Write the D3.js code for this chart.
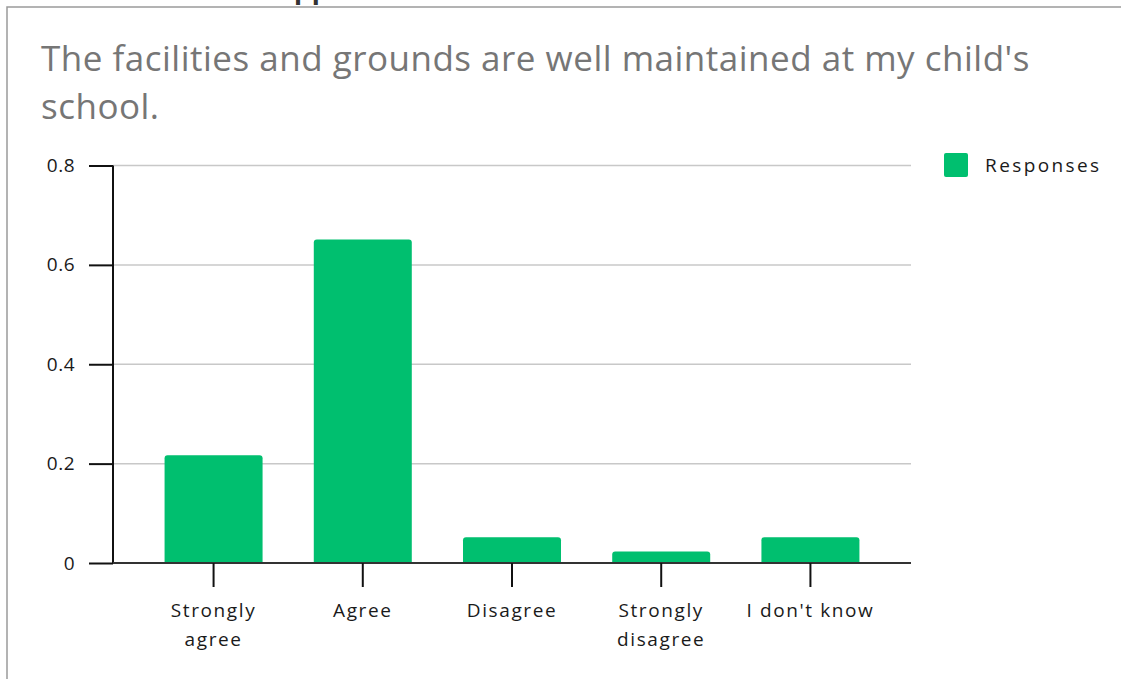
<!DOCTYPE html>
<html>
<head>
<meta charset="utf-8">
<script src="https://cdn.jsdelivr.net/npm/d3@7"></script>
<style>
  html, body { margin: 0; padding: 0; background: #ffffff; }
  svg { display: block; }
</style>
</head>
<body>
<svg id="chart" width="1121" height="679"></svg>
<script>
// Survey question and answer shares
const titleLines = ["The facilities and grounds are well maintained at my child's", "school."];
const categories = [["Strongly", "agree"], ["Agree"], ["Disagree"], ["Strongly", "disagree"], ["I don't know"]];
const responses = [0.217, 0.651, 0.052, 0.023, 0.052];
const yTicks = [0, 0.2, 0.4, 0.6, 0.8];
const seriesName = "Responses";

const svg = d3.select("#chart");
const green = "#00bf6f";
const labelFont = "'Open Sans', 'Noto Sans', sans-serif";

// Panel frame (top and left edges)
svg.append("path")
  .attr("d", "M7,679 L7,7 L1121,7")
  .attr("fill", "none")
  .attr("stroke", "#9a9a9a")
  .attr("stroke-width", 1.5);

// Heading of the previous panel, clipped by the page top
svg.append("text")
  .attr("x", 294).attr("y", -1.5)
  .attr("font-family", "'Liberation Sans', Arial, sans-serif")
  .attr("font-weight", "bold")
  .attr("font-size", 29)
  .attr("fill", "#333")
  .text("pp");

// Title
svg.append("g").selectAll("text")
  .data(titleLines)
  .join("text")
  .attr("x", 41)
  .attr("y", (d, i) => 71 + i * 48)
  .attr("font-family", labelFont)
  .attr("font-size", 35)
  .attr("letter-spacing", 0.5)
  .attr("fill", "#767676")
  .text(d => d);

const plotLeft = 113, plotRight = 911, plotTop = 165.5, plotBottom = 563;

const y = d3.scaleLinear().domain([0, 0.8]).range([plotBottom, plotTop]);
const x = d3.scalePoint()
  .domain(categories.map(d => d.join(" ")))
  .range([plotLeft, plotRight])
  .padding(0.674);

// Horizontal gridlines
svg.append("g").selectAll("line")
  .data(yTicks.filter(t => t > 0))
  .join("line")
  .attr("x1", plotLeft).attr("x2", plotRight)
  .attr("y1", d => y(d)).attr("y2", d => y(d))
  .attr("stroke", "#c8c8c8")
  .attr("stroke-width", 1.5);

// Bars with rounded tops
const barW = 98, r = 3;
svg.append("g").selectAll("path")
  .data(responses)
  .join("path")
  .attr("fill", green)
  .attr("d", (v, i) => {
    const cx = x(categories[i].join(" "));
    const x0 = cx - barW / 2, x1 = cx + barW / 2;
    const y0 = y(v), y1 = y(0);
    return `M${x0},${y1} L${x0},${y0 + r} Q${x0},${y0} ${x0 + r},${y0} L${x1 - r},${y0} Q${x1},${y0} ${x1},${y0 + r} L${x1},${y1} Z`;
  });

// Y axis
const yAxis = d3.axisLeft(y).tickValues(yTicks).tickSize(24).tickPadding(14)
  .tickFormat(d => d === 0 ? "0" : d3.format(".1f")(d));
const yg = svg.append("g").attr("transform", `translate(${plotLeft},0)`).call(yAxis);
yg.select(".domain").remove();
yg.selectAll(".tick line").attr("stroke", "#111").attr("stroke-width", 2);
yg.selectAll(".tick text")
  .attr("font-family", labelFont)
  .attr("font-size", 19)
  .attr("letter-spacing", 0.5)
  .attr("fill", "#1a1a1a");
svg.append("line")
  .attr("x1", plotLeft).attr("x2", plotLeft)
  .attr("y1", plotTop).attr("y2", plotBottom)
  .attr("stroke", "#111").attr("stroke-width", 2);

// X axis
svg.append("line")
  .attr("x1", plotLeft).attr("x2", plotRight)
  .attr("y1", plotBottom).attr("y2", plotBottom)
  .attr("stroke", "#333").attr("stroke-width", 2);
const xg = svg.append("g").selectAll("g")
  .data(categories)
  .join("g")
  .attr("transform", d => `translate(${x(d.join(" "))},${plotBottom})`);
xg.append("line")
  .attr("y1", 0).attr("y2", 24)
  .attr("stroke", "#111").attr("stroke-width", 2);
xg.append("text")
  .attr("text-anchor", "middle")
  .attr("font-family", labelFont)
  .attr("font-size", 19)
  .attr("letter-spacing", 1.6)
  .attr("fill", "#1a1a1a")
  .selectAll("tspan")
  .data(d => d)
  .join("tspan")
  .attr("x", 0)
  .attr("y", (d, i) => 54 + i * 29)
  .text(d => d);

// Legend
const lg = svg.append("g").attr("transform", "translate(944,153)");
lg.append("rect")
  .attr("width", 24).attr("height", 24).attr("rx", 2)
  .attr("fill", green);
lg.append("text")
  .attr("x", 41).attr("y", 19)
  .attr("font-family", labelFont)
  .attr("font-size", 19)
  .attr("letter-spacing", 2.4)
  .attr("fill", "#1a1a1a")
  .text(seriesName);
</script>
</body>
</html>
